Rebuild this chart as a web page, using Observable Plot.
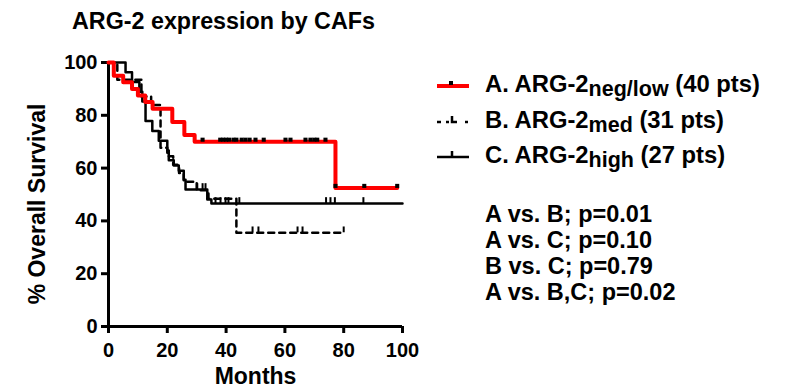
<!DOCTYPE html>
<html>
<head>
<meta charset="utf-8">
<script src="https://cdn.jsdelivr.net/npm/d3@7"></script>
<script src="https://cdn.jsdelivr.net/npm/@observablehq/plot@0.6"></script>
<style>
  html, body { margin: 0; padding: 0; background: #fff; }
  #wrap { position: relative; width: 785px; height: 387px; overflow: hidden; font-family: "Liberation Sans", Arial, sans-serif; font-weight: bold; }
  #wrap > svg.overlay { position: absolute; left: 0; top: 0; pointer-events: none; }
  #chart { position: absolute; left: 0; top: 0; }
</style>
</head>
<body>
<div id="wrap">
  <div id="chart"></div>
  <svg class="overlay" width="785" height="387" font-family="Liberation Sans, Arial, sans-serif" font-weight="bold" fill="#000">
    <text x="72" y="29" font-size="23.3">ARG-2 expression by CAFs</text>
    <text transform="translate(45,204) rotate(-90)" text-anchor="middle" font-size="23">% Overall Survival</text>
    <!-- legend -->
    <line x1="437" y1="86" x2="469" y2="86" stroke="#ff0000" stroke-width="4"/>
    <rect x="449" y="81" width="4" height="4" fill="#000"/>
    <line x1="437" y1="122" x2="441" y2="122" stroke="#000" stroke-width="2.5"/>
    <line x1="446" y1="122" x2="449" y2="122" stroke="#000" stroke-width="2.5"/>
    <polyline points="452,116 452,122 457,122" fill="none" stroke="#000" stroke-width="2.5"/>
    <line x1="465" y1="122" x2="468" y2="122" stroke="#000" stroke-width="2.5"/>
    <line x1="437" y1="157" x2="469" y2="157" stroke="#000" stroke-width="2.5"/>
    <line x1="452" y1="151" x2="452" y2="157" stroke="#000" stroke-width="2.5"/>
    <text x="485" y="92" font-size="23.8">A. ARG-2<tspan font-size="21.5" dy="4">neg/low</tspan><tspan dy="-4"> (40 pts)</tspan></text>
    <text x="485" y="128" font-size="23.8">B. ARG-2<tspan font-size="21.5" dy="4">med</tspan><tspan dy="-4"> (31 pts)</tspan></text>
    <text x="485" y="163" font-size="23.8">C. ARG-2<tspan font-size="21.5" dy="4">high</tspan><tspan dy="-4"> (27 pts)</tspan></text>
    <!-- statistics -->
    <text x="485" y="222" font-size="23.5">A vs. B; p=0.01</text>
    <text x="485" y="248" font-size="23.5">A vs. C; p=0.10</text>
    <text x="485" y="274" font-size="23.5">B vs. C; p=0.79</text>
    <text x="485" y="300" font-size="23.5">A vs. B,C; p=0.02</text>
  </svg>
</div>
<script>
// ---- Data ----
const xTicks = [0, 20, 40, 60, 80, 100];
const yTicks = [0, 20, 40, 60, 80, 100];

// A. ARG-2 neg/low (red)
const aTime = [0, 1.8, 5, 8, 10, 12.5, 15, 21.7, 25.8, 29.3, 77.2, 98.2];
const aSurv = [100, 95, 92.5, 90, 87.5, 85, 82.5, 77.5, 72.5, 70, 52.5, 52.5];
const aCensTime = [32, 38, 39, 40, 41, 42.5, 43.5, 45.3, 46.6, 48, 50, 52.8, 60.2, 61.9, 67, 68.7, 70, 71, 73.8, 77.2, 87, 98.2];
const aCensSurv = [70, 70, 70, 70, 70, 70, 70, 70, 70, 70, 70, 70, 70, 70, 70, 70, 70, 70, 70, 52.5, 52.5, 52.5];

// B. ARG-2 med (dashed)
const bTime = [0, 3, 11.2, 14.5, 17.7, 20, 22, 24, 25.6, 30, 34, 43.5, 80];
const bSurv = [100, 93.5, 87.1, 83.9, 67.7, 64.5, 61.3, 58.1, 54.8, 51.6, 48.4, 35.5, 35.5];
const bCensTime = [49, 51, 64.3, 66, 80];
const bCensSurv = [35.5, 35.5, 35.5, 35.5, 35.5];

// C. ARG-2 high (solid black)
const cTime = [0, 5.8, 8, 10.5, 11.5, 12.6, 14.9, 17.1, 20, 20.5, 22.2, 23.9, 25.6, 26.2, 33.6, 35, 100];
const cSurv = [100, 96.3, 92.6, 88.9, 85.2, 77.8, 74.1, 70.4, 66.7, 63, 61, 59, 55.6, 51.9, 48.1, 46.6, 46.6];
const cCensTime = [30.2, 32, 33, 36.4, 38.1, 39.8, 40.8, 44.5, 74, 75.5, 77, 86.7];
const cCensSurv = [51.9, 51.9, 51.9, 46.6, 46.6, 46.6, 46.6, 46.6, 46.6, 46.6, 46.6, 46.6];

const zip = (t, s) => t.map((d, i) => ({t: d, s: s[i]}));
const A = zip(aTime, aSurv), B = zip(bTime, bSurv), C = zip(cTime, cSurv);
const Ac = zip(aCensTime, aCensSurv), Bc = zip(bCensTime, bCensSurv), Cc = zip(cCensTime, cCensSurv);

const chart = Plot.plot({
  width: 785,
  height: 387,
  marginLeft: 108,
  marginRight: 383,
  marginTop: 62,
  marginBottom: 61,
  x: {domain: [0, 100]},
  y: {domain: [0, 100]},
  style: {fontFamily: "Liberation Sans, Arial, sans-serif", fontWeight: "bold", fontSize: "20px", color: "#000", background: "transparent"},
  marks: [
    Plot.axisX({ticks: xTicks, tickSize: 7, tickPadding: 9, strokeWidth: 3, label: null, fontSize: 20, fontWeight: "bold"}),
    Plot.axisY({ticks: yTicks, tickSize: 7, tickPadding: 4, strokeWidth: 3, label: null, fontSize: 20, fontWeight: "bold"}),
    Plot.ruleX([0], {stroke: "#000", strokeWidth: 3}),
    Plot.ruleY([0], {stroke: "#000", strokeWidth: 3}),
    Plot.line(B, {x: "t", y: "s", curve: "step-after", stroke: "#000", strokeWidth: 2.5, strokeDasharray: "6,5"}),
    Plot.line(C, {x: "t", y: "s", curve: "step-after", stroke: "#000", strokeWidth: 2.5}),
    Plot.ruleX(Bc, {x: "t", y1: "s", y2: d => d.s + 2.2, stroke: "#000", strokeWidth: 2}),
    Plot.ruleX(Cc, {x: "t", y1: "s", y2: d => d.s + 2.2, stroke: "#000", strokeWidth: 2}),
    Plot.line(A, {x: "t", y: "s", curve: "step-after", stroke: "#ff0000", strokeWidth: 4}),
    Plot.dot(Ac, {x: "t", y: "s", symbol: "square", r: 2.3, fill: "#000", stroke: null, dy: -2}),
    Plot.text(["Months"], {text: d => d, frameAnchor: "bottom", dy: 57, fontSize: 23, fontWeight: "bold"})
  ]
});
document.getElementById("chart").appendChild(chart);
</script>
</body>
</html>
